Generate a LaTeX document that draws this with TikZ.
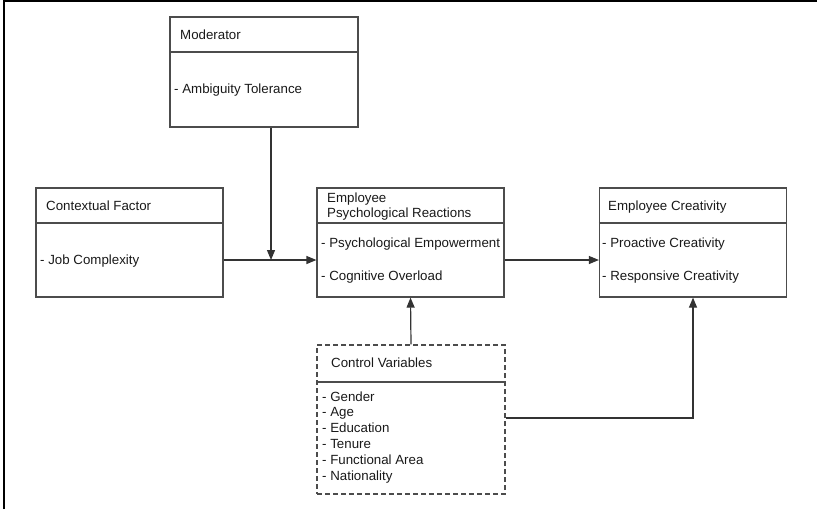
\documentclass[tikz,border=0pt]{standalone}
\usepackage{fontspec}
\setmainfont{Liberation Sans}
\usetikzlibrary{positioning,calc,arrows.meta}

\begin{document}
\begin{tikzpicture}[x=1pt,y=-1pt]
            \tikzstyle{box}=[draw=black!70, line width=1.2pt, rectangle, minimum width=187pt, minimum height=109pt, inner sep=0pt]
            \tikzstyle{txt}=[anchor=base west, inner sep=0pt, text=black!90, font=\fontsize{13.3}{15.8}\selectfont, align=left]
            \tikzstyle{sep}=[draw=black!70, line width=1.2pt]
            \tikzstyle{arr}=[draw=black!80, line width=1.2pt, -{Triangle[length=10pt,width=8pt]}]

            \useasboundingbox (0,0) rectangle (817,509);
            \draw[line width=2pt] (4,509) -- (4,1) -- (817,1);

            \node[box, minimum width=188pt, minimum height=110pt] (mod) at (264,72) {};
            \node[txt] (modT) at (180,39) {Moderator};
            \node[txt] (modB) at (174,93) {- Ambiguity Tolerance};
            \draw[sep] (mod.west |- 0,52) -- (mod.east |- 0,52);

            \node[box] (ctx) at (129.5,242.5) {};
            \node[txt] (ctxT) at (46,210) {Contextual Factor};
            \node[txt] (ctxB) at (40,264) {- Job Complexity};
            \draw[sep] (ctx.west |- 0,223) -- (ctx.east |- 0,223);

            \node[box] (epr) at (410.5,242.5) {};
            \node[txt, font=\fontsize{13.3}{15.3}\selectfont] (eprT) at (327,217.5) {Employee\\Psychological Reactions};
            \node[txt] (eprA) at (321,247) {- Psychological Empowerment};
            \node[txt] (eprB) at (321,280) {- Cognitive Overload};
            \draw[sep] (epr.west |- 0,223) -- (epr.east |- 0,223);

            \node[box] (crea) at (693,242.5) {};
            \node[txt] (creaT) at (608,210) {Employee Creativity};
            \node[txt] (creaA) at (602,247) {- Proactive Creativity};
            \node[txt] (creaB) at (602,280) {- Responsive Creativity};
            \draw[sep] (crea.west |- 0,223) -- (crea.east |- 0,223);

            \node[box, dash pattern=on 5pt off 3pt, minimum width=188pt, minimum height=149pt] (ctrl) at (411,419.5) {};
            \node[txt] (ctrlT) at (331,367) {Control Variables};
            \node[txt] (ctrlB) at (322,480) {- Gender\\- Age\\- Education\\- Tenure\\- Functional Area\\- Nationality};
            \draw[sep] (ctrl.west |- 0,382) -- (ctrl.east |- 0,382);

            \coordinate (jn) at (271,260);
            \draw[arr] (mod.south -| jn) -- (jn);
            \draw[arr] (ctx.east |- jn) -- (epr.west |- jn);
            \draw[arr] (epr.east |- jn) -- (crea.west |- jn);
            \draw[arr] (ctrl.north) -- (epr.south);
            \draw[arr] (ctrl.east |- 0,418) -| (crea.south);
\end{tikzpicture}
\end{document}
